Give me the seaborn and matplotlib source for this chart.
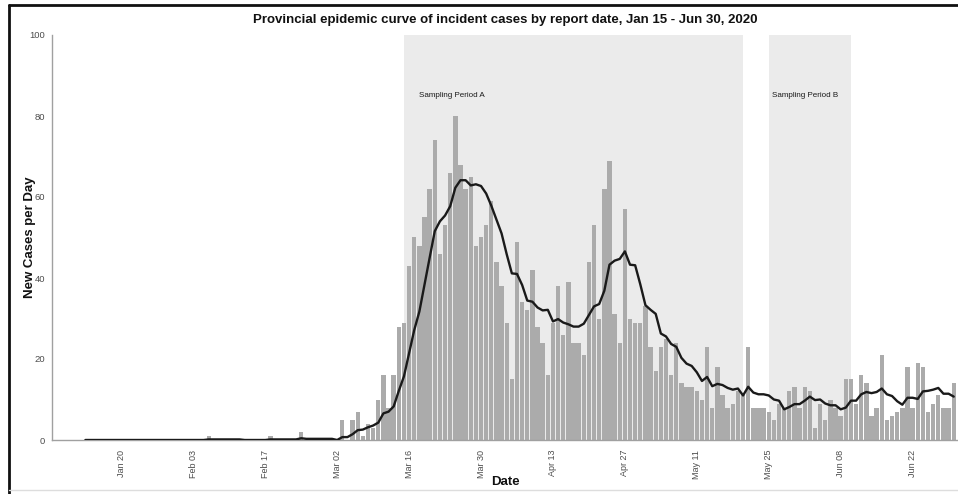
import numpy as np
import pandas as pd
import matplotlib
matplotlib.use("Agg")
import matplotlib.pyplot as plt
import matplotlib.dates as mdates
from matplotlib.lines import Line2D
import seaborn as sns

# ---------------- data ----------------
start_date = "2020-01-13"
end_date = "2020-06-30"

cases_jan = [0, 0, 0, 0, 0, 0, 0, 0, 0, 0, 0, 0, 0, 0, 0, 0, 0, 0, 0]  # Jan 13-31
cases_feb = [0, 0, 0, 0, 0, 1, 0, 0, 0, 0, 0, 0, 0, 0, 0, 0, 0, 1, 0, 0,
             0, 0, 0, 2, 0, 0, 0, 0, 0]  # Feb 1-29
cases_mar = [0, 0, 5, 0, 5, 7, 1, 4, 3, 10, 16, 8, 16, 28, 29, 43, 50, 48, 55, 62,
             74, 46, 53, 66, 80, 68, 62, 65, 48, 50, 53]  # Mar 1-31
cases_apr = [59, 44, 38, 29, 15, 49, 34, 32, 42, 28, 24, 16, 29, 38, 26, 39, 24, 24, 21, 44,
             53, 30, 62, 69, 31, 24, 57, 30, 29, 29]  # Apr 1-30
cases_may = [33, 23, 17, 23, 25, 16, 24, 14, 13, 13, 12, 10, 23, 8, 18, 11, 8, 9, 12, 11,
             23, 8, 8, 8, 7, 5, 9, 8, 12, 13, 8]  # May 1-31
cases_jun = [13, 12, 3, 9, 5, 10, 8, 6, 15, 15, 9, 16, 14, 6, 8, 21, 5, 6, 7, 8,
             18, 8, 19, 18, 7, 9, 11, 8, 8, 14]  # Jun 1-30

period_a = ("2020-03-15", "2020-05-20")
period_b = ("2020-05-25", "2020-06-10")
period_labels = ["Sampling Period A", "Sampling Period B"]
period_label_dates = ["2020-03-24 06:00", "2020-06-01"]
period_label_y = 85

tick_dates = ["2020-01-20", "2020-02-03", "2020-02-17", "2020-03-02", "2020-03-16",
              "2020-03-30", "2020-04-13", "2020-04-27", "2020-05-11", "2020-05-25",
              "2020-06-08", "2020-06-22"]
tick_labels = ["Jan 20", "Feb 03", "Feb 17", "Mar 02", "Mar 16", "Mar 30",
               "Apr 13", "Apr 27", "May 11", "May 25", "Jun 08", "Jun 22"]
y_ticks = [0, 20, 40, 60, 80, 100]

title = "Provincial epidemic curve of incident cases by report date, Jan 15 - Jun 30, 2020"

# ---------------- build ----------------
dates = pd.date_range(start_date, end_date, freq="D")
cases = cases_jan + cases_feb + cases_mar + cases_apr + cases_may + cases_jun
df = pd.DataFrame({"date": dates, "cases": cases})
df["x"] = mdates.date2num(df["date"])
df["avg"] = df["cases"].rolling(7, min_periods=1).mean()

sns.set_theme(style="white")
plt.rcParams['font.family'] = ['Liberation Sans', 'DejaVu Sans']

W, H = 958, 494
fig = plt.figure(figsize=(W / 100, H / 100), dpi=100)
ax = fig.add_axes([52 / W, 1 - 440 / H, 1 - 52 / W, (440 - 35) / H])

for (s, e) in (period_a, period_b):
    ax.axvspan(mdates.datestr2num(s), mdates.datestr2num(e), ymin=0, ymax=1,
               color="#ebebeb", zorder=0, lw=0)

sns.barplot(data=df, x="x", y="cases", native_scale=True, color="#ababab",
            saturation=1, width=0.85, errorbar=None, linewidth=0, ax=ax, zorder=2)
sns.lineplot(data=df, x="x", y="avg", color="#1a1a1a", lw=1.7, ax=ax, zorder=3)

for lab, d in zip(period_labels, period_label_dates):
    ax.text(mdates.datestr2num(d), period_label_y, lab, ha="center", va="center",
            fontsize=5.8, color="#1a1a1a", zorder=4)

ax.set_xlim(mdates.datestr2num("2020-01-06 12:00"), mdates.datestr2num("2020-06-30 20:00"))
ax.set_ylim(0, 100)
ax.set_xticks(mdates.datestr2num(tick_dates))
ax.set_xticklabels(tick_labels, rotation=90)
ax.set_yticks(y_ticks)
ax.set_yticklabels([str(v) for v in y_ticks])
ax.set_xlabel("")
ax.set_ylabel("")

for sp in ["top", "right"]:
    ax.spines[sp].set_visible(False)
for sp in ["left", "bottom"]:
    ax.spines[sp].set_color("#a0a0a0")
    ax.spines[sp].set_linewidth(1.0)
ax.tick_params(axis="both", which="major", length=3, width=0.8, color="#a0a0a0",
               labelsize=6.8, labelcolor="#4d4d4d", pad=2, direction="out")
ax.tick_params(axis="x", pad=4, labelsize=6.5)
ax.set_facecolor("none")

fig.text(505 / W, 1 - 20 / H, title, ha="center", va="center",
         fontsize=9.5, fontweight="bold", color="#111111")
fig.text(30 / W, 1 - 237 / H, "New Cases per Day", ha="center", va="center",
         rotation=90, fontsize=9.5, fontweight="bold", color="#111111")
fig.text(505 / W, 1 - 482 / H, "Date", ha="center", va="center",
         fontsize=9.5, fontweight="bold", color="#111111")

# outer frame (left and top edges in black, faint bottom)
fig.lines.append(Line2D([9 / W, 9 / W], [0, 1 - 5 / H], transform=fig.transFigure,
                        color="#111111", lw=2))
fig.lines.append(Line2D([9 / W, 1], [1 - 5 / H, 1 - 5 / H], transform=fig.transFigure,
                        color="#111111", lw=2))
fig.lines.append(Line2D([9 / W, 1], [1 - 490 / H, 1 - 490 / H], transform=fig.transFigure,
                        color="#dddddd", lw=1))

fig.savefig("out.png", dpi=100)
